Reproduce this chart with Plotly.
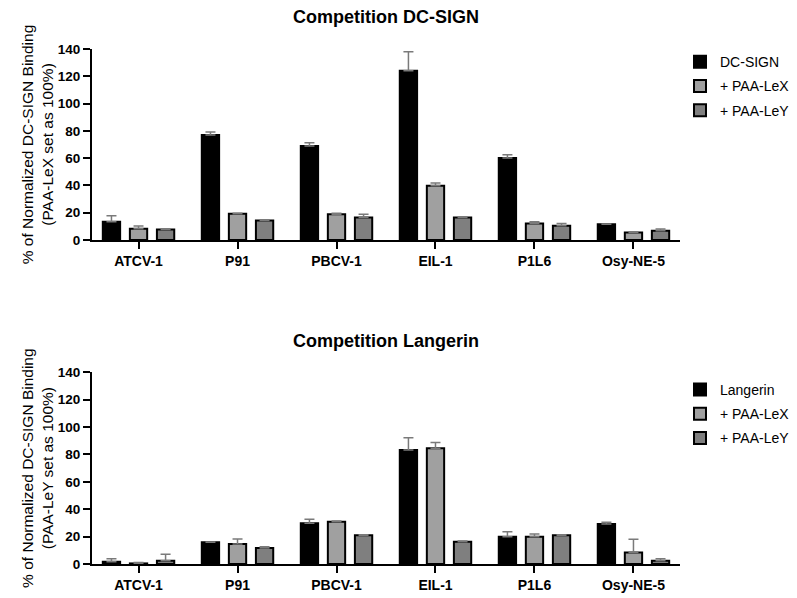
import plotly.graph_objects as go
from plotly.subplots import make_subplots

categories = ["ATCV-1", "P91", "PBCV-1", "EIL-1", "P1L6", "Osy-NE-5"]

# Top panel: Competition DC-SIGN
top_dc = [13.4, 76.9, 68.9, 124.0, 60.1, 11.5]
top_dc_err = [4.4, 2.2, 2.4, 14.0, 2.4, 0.3]
top_lex = [8.3, 19.3, 18.8, 39.8, 12.0, 5.4]
top_lex_err = [2.0, 0.3, 0.8, 2.0, 1.4, 0.7]
top_ley = [7.6, 14.2, 16.4, 16.4, 10.5, 6.8]
top_ley_err = [0.7, 0.7, 2.4, 0.4, 1.5, 1.2]

# Bottom panel: Competition Langerin
bot_lang = [1.7, 15.8, 29.7, 83.2, 19.9, 29.2]
bot_lang_err = [2.2, 0.3, 2.9, 9.0, 3.7, 1.2]
bot_lex = [0.4, 14.6, 30.9, 84.5, 19.9, 8.3]
bot_lex_err = [0.6, 3.6, 0.4, 4.3, 2.0, 9.7]
bot_ley = [2.4, 11.7, 20.9, 16.3, 20.9, 2.4]
bot_ley_err = [4.7, 0.9, 0.4, 0.5, 0.4, 1.5]

y_ticks = [0, 20, 40, 60, 80, 100, 120, 140]

C_BLACK = "#000000"
C_LEX = "#a0a0a0"
C_LEY = "#7f7f7f"
ERR_C = "#7a7a7a"
FONT = "Arial, Liberation Sans, sans-serif"

fig = make_subplots(rows=2, cols=1)


def add_bar(name, vals, errs, color, row, legend, group):
    fig.add_trace(
        go.Bar(
            x=categories,
            y=vals,
            name=name,
            marker=dict(color=color, line=dict(color="black", width=2)),
            error_y=dict(
                type="data",
                symmetric=False,
                array=errs,
                arrayminus=[0] * len(errs),
                color=ERR_C,
                thickness=1.5,
                width=5,
            ),
            legend=legend,
            legendgroup=group,
        ),
        row=row,
        col=1,
    )


add_bar("DC-SIGN", top_dc, top_dc_err, C_BLACK, 1, "legend", "t1")
add_bar("+ PAA-LeX", top_lex, top_lex_err, C_LEX, 1, "legend", "t2")
add_bar("+ PAA-LeY", top_ley, top_ley_err, C_LEY, 1, "legend", "t3")
add_bar("Langerin", bot_lang, bot_lang_err, C_BLACK, 2, "legend2", "b1")
add_bar("+ PAA-LeX", bot_lex, bot_lex_err, C_LEX, 2, "legend2", "b2")
add_bar("+ PAA-LeY", bot_ley, bot_ley_err, C_LEY, 2, "legend2", "b3")

axis_common = dict(
    showline=True,
    linecolor="black",
    linewidth=2,
    ticks="outside",
    ticklen=7,
    tickwidth=2,
    tickcolor="black",
    showgrid=False,
    zeroline=False,
    automargin=False,
)

fig.update_xaxes(**axis_common, range=[-0.47, 5.47], domain=[0, 1],
                 tickfont=dict(family=FONT, size=14, color="black", weight="bold"))
fig.update_yaxes(**axis_common, range=[0, 140], tickvals=y_ticks,
                 tickfont=dict(family=FONT, size=13.5, color="black", weight="bold"))

fig.update_yaxes(domain=[0.5987, 0.9181], row=1, col=1,
                 title=dict(text="% of Normalized DC-SIGN Binding<br>(PAA-LeX set as 100%)",
                            font=dict(family=FONT, size=15.5, color="black"), standoff=0))
fig.update_yaxes(domain=[0.0569, 0.3774], row=2, col=1,
                 title=dict(text="% of Normalized DC-SIGN Binding<br>(PAA-LeY set as 100%)",
                            font=dict(family=FONT, size=15.5, color="black"), standoff=0))

legend_common = dict(
    x=1.0,
    xanchor="left",
    yanchor="top",
    font=dict(family=FONT, size=14, color="black"),
    bgcolor="rgba(0,0,0,0)",
    traceorder="grouped",
    tracegroupgap=3,
)

fig.update_layout(
    width=797,
    height=598,
    margin=dict(l=92, r=117, t=0, b=0, autoexpand=False),
    paper_bgcolor="white",
    plot_bgcolor="white",
    barmode="group",
    bargap=0.18,
    bargroupgap=0.36,
    font=dict(family=FONT, color="black"),
    legend=dict(**legend_common, y=0.9227),
    legend2=dict(**legend_common, y=0.3747),
    annotations=[
        dict(text="<b>Competition DC-SIGN</b>", x=0.5, y=1 - 17 / 598, xref="paper", yref="paper",
             xanchor="center", yanchor="middle", showarrow=False,
             font=dict(family=FONT, size=18, color="black")),
        dict(text="<b>Competition Langerin</b>", x=0.5, y=1 - 341 / 598, xref="paper", yref="paper",
             xanchor="center", yanchor="middle", showarrow=False,
             font=dict(family=FONT, size=18, color="black")),
    ],
)

fig.write_html(
    "out.html",
    config={"displayModeBar": False},
    post_script="document.body.style.margin='0';document.body.style.overflow='hidden';",
)
